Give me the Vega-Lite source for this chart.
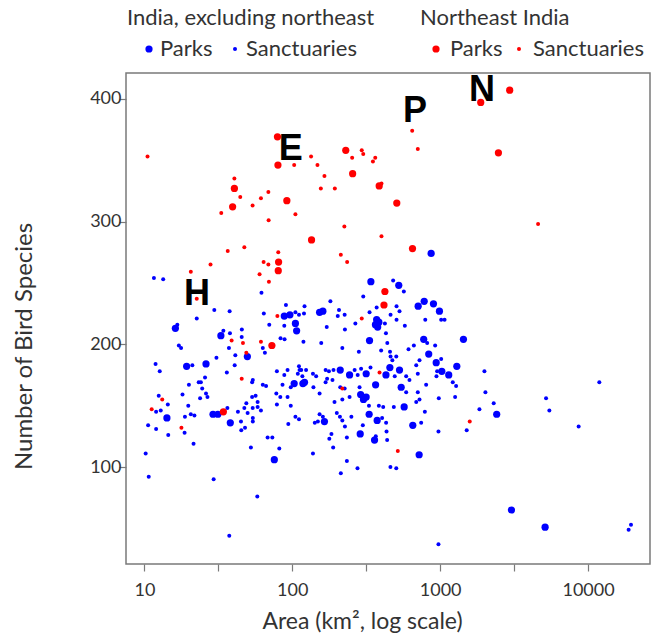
{
"$schema": "https://vega.github.io/schema/vega-lite/v6.json",
"width": 524, "height": 491,
"autosize": "none",
"padding": {"left": 126, "top": 73, "right": 2, "bottom": 73},
"background": "white",
"config": {
 "view": {"stroke": "#7a7a7a", "strokeWidth": 1.5},
 "font": "Lato",
 "axis": {"grid": false, "domain": false, "tickColor": "#7a7a7a", "tickSize": 7, "tickWidth": 1.2, "labelFont": "Lato", "labelFontSize": 18, "labelColor": "#333333", "titleFont": "Lato", "titleFontSize": 23, "titleColor": "#333333", "titleFontWeight": "normal"},
 "legend": {"titleFont": "Lato", "titleFontSize": 22, "titleFontWeight": "normal", "titleColor": "#333333", "labelFont": "Lato", "labelFontSize": 22, "labelColor": "#333333", "symbolOpacity": 1, "symbolStrokeWidth": 0, "titlePadding": 8, "labelOffset": 0, "symbolType": "circle", "titleLimit": 600, "labelLimit": 300}
},
"datasets": {
 "india": [
{"area":11.6,"species":254,"type":"Sanctuaries"},{"area":13.4,"species":253,"type":"Sanctuaries"},{"area":869,"species":274,"type":"Parks"},
{"area":61.9,"species":242,"type":"Sanctuaries"},{"area":29.7,"species":228,"type":"Sanctuaries"},{"area":37.7,"species":227,"type":"Sanctuaries"},{"area":22.6,"species":221,"type":"Sanctuaries"},{"area":90.6,"species":232,"type":"Sanctuaries"},{"area":64.2,"species":225,"type":"Sanctuaries"},{"area":88.3,"species":223,"type":"Parks"},{"area":96.4,"species":224,"type":"Parks"},{"area":105,"species":226,"type":"Sanctuaries"},{"area":111,"species":224,"type":"Sanctuaries"},{"area":105,"species":217,"type":"Parks"},{"area":107,"species":211,"type":"Parks"},{"area":69.9,"species":216,"type":"Sanctuaries"},{"area":88.3,"species":215,"type":"Sanctuaries"},{"area":120,"species":225,"type":"Sanctuaries"},{"area":16.2,"species":213,"type":"Parks"},{"area":16.7,"species":216,"type":"Sanctuaries"},{"area":32.9,"species":207,"type":"Parks"},{"area":34.2,"species":211,"type":"Sanctuaries"},{"area":37.9,"species":209,"type":"Sanctuaries"},{"area":45.6,"species":212,"type":"Sanctuaries"},{"area":45.5,"species":206,"type":"Sanctuaries"},{"area":83.3,"species":205,"type":"Sanctuaries"},{"area":88.7,"species":204,"type":"Sanctuaries"},{"area":119,"species":202,"type":"Sanctuaries"},{"area":17.1,"species":199,"type":"Sanctuaries"},{"area":17.7,"species":197,"type":"Sanctuaries"},{"area":37.3,"species":197,"type":"Sanctuaries"},{"area":63.2,"species":197,"type":"Sanctuaries"},{"area":49.7,"species":190,"type":"Parks"},{"area":65.3,"species":193,"type":"Sanctuaries"},{"area":41.2,"species":191,"type":"Sanctuaries"},{"area":30.7,"species":189,"type":"Sanctuaries"},{"area":11.9,"species":184,"type":"Sanctuaries"},{"area":12.7,"species":178,"type":"Sanctuaries"},{"area":19.3,"species":182,"type":"Parks"},{"area":21.1,"species":183,"type":"Sanctuaries"},{"area":26.1,"species":184,"type":"Parks"},{"area":40.8,"species":183,"type":"Sanctuaries"},{"area":36.1,"species":177,"type":"Sanctuaries"},{"area":25.7,"species":173,"type":"Sanctuaries"},{"area":23.3,"species":169,"type":"Sanctuaries"},{"area":24.1,"species":169,"type":"Sanctuaries"},{"area":20.0,"species":167,"type":"Sanctuaries"},{"area":24.6,"species":164,"type":"Sanctuaries"},{"area":26.1,"species":160,"type":"Sanctuaries"},{"area":26.7,"species":157,"type":"Sanctuaries"},{"area":23.8,"species":156,"type":"Sanctuaries"},{"area":18.1,"species":159,"type":"Sanctuaries"},{"area":12.5,"species":158,"type":"Sanctuaries"},{"area":14.4,"species":151,"type":"Sanctuaries"},{"area":19.8,"species":150,"type":"Sanctuaries"},{"area":12.0,"species":145,"type":"Sanctuaries"},{"area":12.9,"species":146,"type":"Sanctuaries"},{"area":14.2,"species":140,"type":"Parks"},{"area":18.8,"species":141,"type":"Sanctuaries"},{"area":20.6,"species":143,"type":"Sanctuaries"},{"area":21.8,"species":142,"type":"Sanctuaries"},{"area":29.1,"species":143,"type":"Parks"},{"area":31.4,"species":143,"type":"Parks"},{"area":36.4,"species":148,"type":"Sanctuaries"},{"area":42.9,"species":145,"type":"Sanctuaries"},{"area":38.1,"species":136,"type":"Parks"},{"area":45.0,"species":137,"type":"Sanctuaries"},{"area":10.6,"species":134,"type":"Sanctuaries"},{"area":94,"species":135,"type":"Sanctuaries"},{"area":105,"species":141,"type":"Sanctuaries"},{"area":111,"species":139,"type":"Sanctuaries"},{"area":78.7,"species":178,"type":"Sanctuaries"},{"area":88.3,"species":175,"type":"Sanctuaries"},{"area":92.9,"species":179,"type":"Sanctuaries"},{"area":103,"species":168,"type":"Parks"},{"area":109,"species":176,"type":"Sanctuaries"},{"area":115,"species":179,"type":"Sanctuaries"},{"area":117,"species":174,"type":"Sanctuaries"},{"area":111,"species":182,"type":"Sanctuaries"},{"area":63.2,"species":167,"type":"Sanctuaries"},{"area":66.5,"species":166,"type":"Sanctuaries"},{"area":54.1,"species":171,"type":"Sanctuaries"},{"area":53.5,"species":169,"type":"Sanctuaries"},{"area":85.9,"species":167,"type":"Sanctuaries"},{"area":97.7,"species":165,"type":"Sanctuaries"},{"area":78,"species":160,"type":"Sanctuaries"},{"area":83,"species":157,"type":"Sanctuaries"},{"area":92.9,"species":157,"type":"Sanctuaries"},{"area":78.7,"species":151,"type":"Sanctuaries"},{"area":97.7,"species":150,"type":"Sanctuaries"},{"area":53.5,"species":157,"type":"Sanctuaries"},{"area":56.5,"species":158,"type":"Sanctuaries"},{"area":47.4,"species":148,"type":"Sanctuaries"},{"area":48.9,"species":152,"type":"Sanctuaries"},{"area":49.9,"species":144,"type":"Sanctuaries"},{"area":58.3,"species":153,"type":"Sanctuaries"},{"area":58.3,"species":149,"type":"Sanctuaries"},{"area":61.4,"species":146,"type":"Sanctuaries"},{"area":54,"species":148,"type":"Sanctuaries"},{"area":54.1,"species":140,"type":"Sanctuaries"},{"area":54.1,"species":137,"type":"Sanctuaries"},
{"area":340,"species":251,"type":"Parks"},{"area":525,"species":248,"type":"Parks"},{"area":481,"species":252,"type":"Sanctuaries"},{"area":568,"species":243,"type":"Sanctuaries"},{"area":302,"species":239,"type":"Sanctuaries"},{"area":372,"species":230,"type":"Sanctuaries"},{"area":507,"species":231,"type":"Sanctuaries"},{"area":710,"species":231,"type":"Parks"},{"area":780,"species":235,"type":"Parks"},{"area":901,"species":233,"type":"Parks"},{"area":989,"species":227,"type":"Parks"},{"area":1016,"species":220,"type":"Sanctuaries"},{"area":1071,"species":220,"type":"Sanctuaries"},{"area":793,"species":220,"type":"Sanctuaries"},{"area":531,"species":227,"type":"Sanctuaries"},{"area":333,"species":226,"type":"Sanctuaries"},{"area":372,"species":220,"type":"Parks"},{"area":385,"species":218,"type":"Parks"},{"area":365,"species":216,"type":"Parks"},{"area":378,"species":214,"type":"Parks"},{"area":423,"species":217,"type":"Sanctuaries"},{"area":462,"species":224,"type":"Sanctuaries"},{"area":507,"species":220,"type":"Sanctuaries"},{"area":430,"species":209,"type":"Sanctuaries"},{"area":577,"species":215,"type":"Sanctuaries"},{"area":267,"species":217,"type":"Sanctuaries"},{"area":207,"species":228,"type":"Sanctuaries"},{"area":226,"species":224,"type":"Sanctuaries"},{"area":181,"species":235,"type":"Sanctuaries"},{"area":153,"species":226,"type":"Parks"},{"area":161,"species":227,"type":"Parks"},{"area":121,"species":231,"type":"Sanctuaries"},{"area":203,"species":223,"type":"Sanctuaries"},{"area":171,"species":214,"type":"Sanctuaries"},{"area":227,"species":212,"type":"Sanctuaries"},{"area":333,"species":203,"type":"Parks"},{"area":439,"species":201,"type":"Sanctuaries"},{"area":774,"species":204,"type":"Parks"},{"area":1437,"species":204,"type":"Parks"},{"area":925,"species":199,"type":"Sanctuaries"},{"area":157,"species":201,"type":"Sanctuaries"},{"area":218,"species":197,"type":"Sanctuaries"},{"area":282,"species":194,"type":"Sanctuaries"},{"area":399,"species":195,"type":"Sanctuaries"},{"area":458,"species":194,"type":"Sanctuaries"},{"area":505,"species":190,"type":"Sanctuaries"},{"area":475,"species":187,"type":"Sanctuaries"},{"area":611,"species":196,"type":"Sanctuaries"},{"area":664,"species":199,"type":"Sanctuaries"},{"area":837,"species":192,"type":"Parks"},{"area":817,"species":201,"type":"Sanctuaries"},{"area":725,"species":187,"type":"Sanctuaries"},{"area":940,"species":185,"type":"Parks"},{"area":1016,"species":188,"type":"Sanctuaries"},{"area":1296,"species":182,"type":"Parks"},{"area":1026,"species":178,"type":"Parks"},{"area":1143,"species":175,"type":"Parks"},{"area":944,"species":174,"type":"Sanctuaries"},{"area":954,"species":178,"type":"Sanctuaries"},{"area":1217,"species":169,"type":"Sanctuaries"},{"area":1282,"species":166,"type":"Sanctuaries"},{"area":1992,"species":178,"type":"Sanctuaries"},{"area":2302,"species":152,"type":"Sanctuaries"},{"area":1843,"species":147,"type":"Sanctuaries"},{"area":2412,"species":143,"type":"Parks"},{"area":2023,"species":161,"type":"Sanctuaries"},{"area":1262,"species":157,"type":"Sanctuaries"},{"area":979,"species":156,"type":"Sanctuaries"},{"area":788,"species":145,"type":"Sanctuaries"},{"area":571,"species":149,"type":"Parks"},{"area":653,"species":134,"type":"Parks"},{"area":486,"species":149,"type":"Sanctuaries"},{"area":385,"species":150,"type":"Sanctuaries"},{"area":412,"species":149,"type":"Sanctuaries"},{"area":331,"species":143,"type":"Parks"},{"area":375,"species":138,"type":"Parks"},{"area":405,"species":140,"type":"Sanctuaries"},{"area":431,"species":136,"type":"Sanctuaries"},{"area":300,"species":134,"type":"Sanctuaries"},{"area":316,"species":157,"type":"Parks"},{"area":303,"species":155,"type":"Parks"},{"area":290,"species":159,"type":"Parks"},{"area":330,"species":150,"type":"Sanctuaries"},{"area":244,"species":157,"type":"Sanctuaries"},{"area":218,"species":155,"type":"Sanctuaries"},{"area":193,"species":153,"type":"Sanctuaries"},{"area":200,"species":144,"type":"Sanctuaries"},{"area":210,"species":141,"type":"Sanctuaries"},{"area":153,"species":143,"type":"Sanctuaries"},{"area":161,"species":141,"type":"Sanctuaries"},{"area":165,"species":137,"type":"Parks"},{"area":142,"species":136,"type":"Sanctuaries"},{"area":149,"species":137,"type":"Sanctuaries"},{"area":118,"species":168,"type":"Parks"},{"area":121,"species":169,"type":"Parks"},{"area":112,"species":179,"type":"Sanctuaries"},{"area":124,"species":179,"type":"Sanctuaries"},{"area":138,"species":176,"type":"Sanctuaries"},{"area":145,"species":174,"type":"Sanctuaries"},{"area":153,"species":160,"type":"Sanctuaries"},{"area":139,"species":165,"type":"Sanctuaries"},{"area":168,"species":179,"type":"Sanctuaries"},{"area":177,"species":178,"type":"Sanctuaries"},{"area":190,"species":179,"type":"Sanctuaries"},{"area":211,"species":179,"type":"Parks"},{"area":244,"species":175,"type":"Parks"},{"area":264,"species":179,"type":"Sanctuaries"},{"area":277,"species":175,"type":"Sanctuaries"},{"area":292,"species":180,"type":"Sanctuaries"},{"area":316,"species":176,"type":"Parks"},{"area":338,"species":181,"type":"Sanctuaries"},{"area":366,"species":167,"type":"Parks"},{"area":430,"species":175,"type":"Parks"},{"area":457,"species":181,"type":"Parks"},{"area":462,"species":190,"type":"Sanctuaries"},{"area":493,"species":174,"type":"Sanctuaries"},{"area":531,"species":179,"type":"Parks"},{"area":545,"species":165,"type":"Parks"},{"area":589,"species":174,"type":"Sanctuaries"},{"area":620,"species":171,"type":"Sanctuaries"},{"area":689,"species":183,"type":"Sanctuaries"},{"area":706,"species":176,"type":"Sanctuaries"},{"area":804,"species":167,"type":"Sanctuaries"},{"area":706,"species":161,"type":"Sanctuaries"},{"area":589,"species":161,"type":"Sanctuaries"},{"area":725,"species":155,"type":"Sanctuaries"},{"area":689,"species":153,"type":"Sanctuaries"},{"area":285,"species":165,"type":"Sanctuaries"},{"area":211,"species":165,"type":"Sanctuaries"},{"area":226,"species":164,"type":"Sanctuaries"},{"area":187,"species":171,"type":"Sanctuaries"},{"area":168,"species":169,"type":"Sanctuaries"},{"area":172,"species":172,"type":"Sanctuaries"},{"area":218,"species":138,"type":"Sanctuaries"},{"area":251,"species":141,"type":"Sanctuaries"},
{"area":12.0,"species":131,"type":"Sanctuaries"},{"area":14.5,"species":126,"type":"Sanctuaries"},{"area":18.7,"species":128,"type":"Sanctuaries"},{"area":21.5,"species":119,"type":"Sanctuaries"},{"area":45.2,"species":130,"type":"Sanctuaries"},{"area":47.9,"species":132,"type":"Sanctuaries"},{"area":52.5,"species":116,"type":"Sanctuaries"},{"area":68.1,"species":124,"type":"Sanctuaries"},{"area":73.3,"species":124,"type":"Sanctuaries"},{"area":81.7,"species":115,"type":"Sanctuaries"},{"area":75.6,"species":106,"type":"Parks"},{"area":138,"species":111,"type":"Sanctuaries"},{"area":184,"species":127,"type":"Sanctuaries"},{"area":178,"species":123,"type":"Sanctuaries"},{"area":189,"species":116,"type":"Sanctuaries"},{"area":227,"species":133,"type":"Sanctuaries"},{"area":234,"species":124,"type":"Sanctuaries"},{"area":234,"species":105,"type":"Sanctuaries"},{"area":213,"species":95,"type":"Sanctuaries"},{"area":276,"species":99,"type":"Sanctuaries"},{"area":288,"species":127,"type":"Parks"},{"area":360,"species":122,"type":"Parks"},{"area":367,"species":125,"type":"Sanctuaries"},{"area":438,"species":122,"type":"Sanctuaries"},{"area":434,"species":129,"type":"Sanctuaries"},{"area":461,"species":100,"type":"Sanctuaries"},{"area":505,"species":99,"type":"Sanctuaries"},{"area":721,"species":110,"type":"Parks"},{"area":744,"species":136,"type":"Sanctuaries"},{"area":974,"species":129,"type":"Sanctuaries"},{"area":974,"species":37,"type":"Sanctuaries"},{"area":1512,"species":130,"type":"Sanctuaries"},{"area":37.5,"species":44,"type":"Sanctuaries"},{"area":58,"species":76,"type":"Sanctuaries"},{"area":29.4,"species":90,"type":"Sanctuaries"},{"area":10.7,"species":92,"type":"Sanctuaries"},{"area":10.2,"species":111,"type":"Sanctuaries"},
{"area":5200,"species":156,"type":"Sanctuaries"},{"area":5475,"species":146,"type":"Sanctuaries"},{"area":11920,"species":169,"type":"Sanctuaries"},{"area":8640,"species":133,"type":"Sanctuaries"},{"area":3033,"species":65,"type":"Parks"},{"area":5124,"species":51,"type":"Parks"},{"area":19520,"species":53,"type":"Sanctuaries"},{"area":18810,"species":49,"type":"Sanctuaries"}
 ],
 "ne": [
{"area":10.5,"species":353,"type":"Sanctuaries"},{"area":79.4,"species":369,"type":"Parks"},{"area":80,"species":346,"type":"Parks"},{"area":103,"species":346,"type":"Sanctuaries"},{"area":134,"species":353,"type":"Sanctuaries"},{"area":148,"species":346,"type":"Sanctuaries"},{"area":165,"species":337,"type":"Sanctuaries"},{"area":156,"species":327,"type":"Sanctuaries"},{"area":194,"species":327,"type":"Sanctuaries"},{"area":230,"species":358,"type":"Parks"},{"area":254,"species":352,"type":"Sanctuaries"},{"area":295,"species":358,"type":"Sanctuaries"},{"area":302,"species":355,"type":"Sanctuaries"},{"area":364,"species":352,"type":"Sanctuaries"},{"area":351,"species":349,"type":"Sanctuaries"},{"area":256,"species":339,"type":"Parks"},{"area":387,"species":329,"type":"Parks"},{"area":401,"species":331,"type":"Sanctuaries"},{"area":40.6,"species":335,"type":"Sanctuaries"},{"area":40.6,"species":327,"type":"Parks"},{"area":44.5,"species":320,"type":"Sanctuaries"},{"area":39.5,"species":312,"type":"Parks"},{"area":33.1,"species":307,"type":"Sanctuaries"},{"area":53.9,"species":313,"type":"Sanctuaries"},{"area":61.4,"species":319,"type":"Sanctuaries"},{"area":68.9,"species":324,"type":"Sanctuaries"},{"area":91.9,"species":317,"type":"Parks"},{"area":105,"species":306,"type":"Sanctuaries"},{"area":69.2,"species":301,"type":"Sanctuaries"},{"area":135,"species":285,"type":"Parks"},{"area":225,"species":296,"type":"Sanctuaries"},{"area":401,"species":288,"type":"Sanctuaries"},{"area":36.6,"species":276,"type":"Sanctuaries"},{"area":47.4,"species":279,"type":"Sanctuaries"},{"area":80.4,"species":275,"type":"Sanctuaries"},{"area":80.8,"species":267,"type":"Parks"},{"area":80.4,"species":260,"type":"Parks"},{"area":64,"species":267,"type":"Sanctuaries"},{"area":68.9,"species":265,"type":"Sanctuaries"},{"area":60.1,"species":257,"type":"Sanctuaries"},{"area":28,"species":265,"type":"Sanctuaries"},{"area":20.6,"species":259,"type":"Sanctuaries"},{"area":213,"species":273,"type":"Sanctuaries"},{"area":235,"species":267,"type":"Sanctuaries"},
{"area":2953,"species":407,"type":"Parks"},{"area":1881,"species":397,"type":"Parks"},{"area":647,"species":374,"type":"Sanctuaries"},{"area":706,"species":359,"type":"Sanctuaries"},{"area":2477,"species":356,"type":"Parks"},{"area":509,"species":315,"type":"Parks"},{"area":4594,"species":298,"type":"Sanctuaries"},{"area":650,"species":278,"type":"Parks"},
{"area":69.5,"species":251,"type":"Sanctuaries"},{"area":22.6,"species":237,"type":"Sanctuaries"},{"area":79.3,"species":223,"type":"Sanctuaries"},{"area":38.9,"species":203,"type":"Sanctuaries"},{"area":46.4,"species":201,"type":"Sanctuaries"},{"area":61.4,"species":202,"type":"Sanctuaries"},{"area":72.8,"species":199,"type":"Parks"},{"area":48.9,"species":193,"type":"Sanctuaries"},{"area":45.5,"species":172,"type":"Sanctuaries"},{"area":13.2,"species":155,"type":"Sanctuaries"},{"area":11.2,"species":147,"type":"Sanctuaries"},{"area":34.2,"species":145,"type":"Parks"},{"area":17.8,"species":132,"type":"Sanctuaries"},
{"area":423,"species":243,"type":"Parks"},{"area":417,"species":232,"type":"Parks"},{"area":295,"species":221,"type":"Sanctuaries"},{"area":389,"species":177,"type":"Sanctuaries"},{"area":218,"species":164,"type":"Sanctuaries"},{"area":1585,"species":137,"type":"Sanctuaries"},{"area":517,"species":113,"type":"Sanctuaries"}
 ],
 "labels": [
{"label":"E","area":97.8,"species":350},{"label":"P","area":676,"species":381},{"label":"N","area":1916,"species":398},{"label":"H","area":22.7,"species":232}
 ]
},
"layer": [
 {
  "data": {"name": "india"},
  "mark": {"type": "circle", "color": "#0000ff", "opacity": 1},
  "encoding": {
   "x": {"field": "area", "type": "quantitative", "scale": {"type": "log", "domain": [7.51, 26240], "nice": false},
    "axis": {"values": [10, 31.6228, 100, 316.228, 1000, 3162.28, 10000], "labelExpr": "(datum.value==10||datum.value==100||datum.value==1000||datum.value==10000) ? format(datum.value,'d') : ''", "labelPadding": 10, "labelOverlap": false, "labelFlush": false, "title": "Area (km², log scale)", "titleX": 236, "titleY": 64, "titleAlign": "center", "titleBaseline": "alphabetic"}},
   "y": {"field": "species", "type": "quantitative", "scale": {"domain": [21, 421], "nice": false, "zero": false},
    "axis": {"values": [100, 200, 300, 400], "labelPadding": -2, "title": "Number of Bird Species", "titleFontSize": 24, "titleX": -95, "titleY": 273, "titleAlign": "center", "titleBaseline": "alphabetic", "titleAngle": -90}},
   "size": {"field": "type", "type": "ordinal", "scale": {"domain": ["Parks", "Sanctuaries"], "range": [52, 16]},
    "legend": {"title": "India, excluding northeast", "orient": "none", "legendX": 1, "legendY": -65, "direction": "horizontal", "titleAnchor": "start", "symbolOffset": 11, "columnPadding": -14, "labelOffset": 0, "symbolFillColor": "#0000ff"}}
  }
 },
 {
  "data": {"name": "ne"},
  "mark": {"type": "circle", "color": "#ff0000", "opacity": 1},
  "encoding": {
   "x": {"field": "area", "type": "quantitative"},
   "y": {"field": "species", "type": "quantitative"},
   "size": {"field": "type", "type": "ordinal", "scale": {"domain": ["Parks", "Sanctuaries"], "range": [52, 16]},
    "legend": {"title": "Northeast India", "orient": "none", "legendX": 294, "legendY": -65, "direction": "horizontal", "titleAnchor": "start", "symbolOffset": 5, "columnPadding": -2, "labelOffset": 3, "symbolFillColor": "#ff0000"}}
  }
 },
 {
  "data": {"name": "labels"},
  "mark": {"type": "text", "font": "Liberation Sans", "fontWeight": "bold", "fontSize": 36, "baseline": "alphabetic", "align": "center", "color": "#000000"},
  "encoding": {
   "x": {"field": "area", "type": "quantitative"},
   "y": {"field": "species", "type": "quantitative"},
   "text": {"field": "label"}
  }
 }
],
"resolve": {"scale": {"size": "independent"}, "legend": {"size": "independent"}}
}
